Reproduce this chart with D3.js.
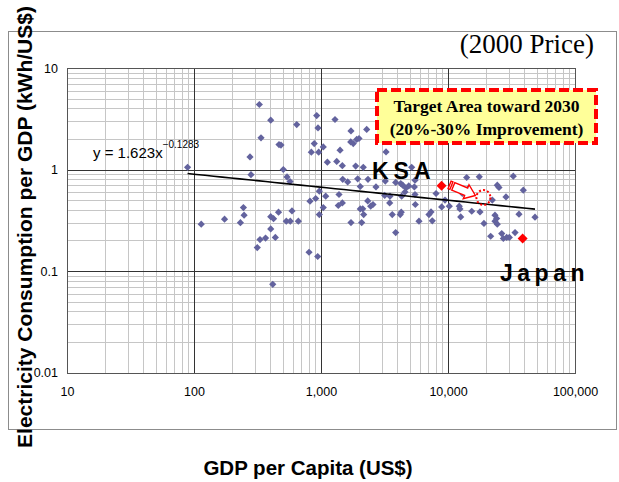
<!DOCTYPE html>
<html>
<head>
<meta charset="utf-8">
<script src="https://d3js.org/d3.v7.min.js"></script>
<style>
  body { margin: 0; background: #fff; }
  svg text { font-family: "Liberation Sans", Arial, sans-serif; }
  .grid line { shape-rendering: crispEdges; }
  .axis .domain { stroke: none; }
</style>
</head>
<body>
<svg id="chart" width="619" height="482"></svg>
<script>
// countries, GDP per capita (US$, 2000 price)
const gdpPerCapita = [89, 114, 174, 232, 245, 248, 276, 281, 327, 337, 315, 331, 366, 402, 402, 423, 463, 402, 437, 417,
  467, 484, 505, 540, 570, 533, 573, 591, 663, 644, 805, 942, 819, 908, 970, 1089, 1042, 970, 839, 959,
  885, 1042, 925, 947, 1289, 1122, 1330, 1472, 1413, 1722, 1714, 1795, 1910, 1992, 2290, 1876, 2153, 1483, 1622, 1945,
  2038, 2344, 1386, 1472, 1368, 1722, 2038, 2130, 2333, 2462, 2567, 2168, 2091, 2710, 3251, 3208, 3873, 5176, 4244, 4397,
  4667, 4909, 5432, 3175, 3493, 3475, 3640, 4207, 4285, 3873, 5530, 5910, 7080, 7350, 7520, 4585, 5500, 8050, 5500, 4318,
  9470, 8920, 10240, 12270, 12420, 12590, 14030, 17630, 14450, 12970, 15380, 17860, 19190, 22330, 24430, 25210, 23440, 24170, 23440, 24430,
  21680, 26490, 27290, 28990, 30410, 33730, 28620, 32660, 39170, 36220, 48420];
// electricity consumption per GDP (kWh/US$)
const elecPerGdp = [1.05, 0.289, 0.324, 0.299, 0.422, 0.355, 1.33, 0.89, 4.37, 2.05, 0.170, 0.204, 0.211, 3.06, 0.343, 0.328, 0.380, 0.260, 0.214, 0.074,
  1.76, 1.74, 1.00, 0.845, 0.76, 0.31, 0.31, 0.391, 0.31, 2.77, 0.153, 0.139, 0.487, 0.518, 0.611, 0.546, 0.422, 0.360, 1.48, 1.48,
  1.80, 1.67, 3.40, 2.57, 3.11, 1.18, 1.20, 1.09, 1.55, 2.40, 1.87, 1.80, 1.98, 2.02, 2.48, 1.08, 1.05, 0.80, 0.755, 0.81,
  0.68, 0.80, 0.567, 0.469, 0.442, 0.30, 0.409, 0.41, 0.49, 0.435, 0.452, 0.36, 0.30, 0.674, 1.49, 0.77, 0.745, 1.05, 0.728, 0.70,
  0.659, 0.689, 0.674, 0.555, 0.546, 0.469, 0.36, 0.36, 0.38, 0.239, 0.452, 0.31, 0.36, 0.382, 0.312, 0.60, 0.567, 0.58, 0.785, 0.546,
  0.50, 0.428, 0.435, 0.435, 0.409, 0.341, 0.834, 0.846, 0.65, 0.58, 0.388, 0.382, 0.294, 0.50, 0.70, 0.665, 0.355, 0.329, 0.31, 0.289,
  0.22, 0.234, 0.209, 0.214, 0.214, 0.239, 0.537, 0.859, 0.625, 0.363, 0.339];

const ksa = { gdp: 8900, value: 0.69 };
const japan = { gdp: 38700, value: 0.209 };
const target = { gdp: 19000, value: 0.53 };

// power trend y = a * x^b
const trendA = 1.623;
const trendB = -0.1283;

const xTicks = [10, 100, 1000, 10000, 100000];
const yTicks = [0.01, 0.1, 1, 10];

const svg = d3.select('#chart');
const plot = { left: 67, right: 575, top: 68, bottom: 372.5 };

const x = d3.scaleLog().domain([10, 100000]).range([plot.left, plot.right]);
const y = d3.scaleLog().domain([0.01, 10]).range([plot.bottom, plot.top]);

// outer frame
svg.append('rect')
  .attr('x', 8.5).attr('y', 31.5).attr('width', 608).attr('height', 398)
  .attr('fill', '#fff').attr('stroke', '#8c8c8c').attr('stroke-width', 1);

// minor gridlines
const minorX = [], minorY = [];
for (let d = 10; d < 100000; d *= 10) for (let k = 2; k <= 9; k++) minorX.push(d * k);
for (let d = 0.01; d < 9; d *= 10) for (let k = 2; k <= 9; k++) minorY.push(d * k);

const grid = svg.append('g').attr('class', 'grid');
grid.selectAll('.mx').data(minorX).join('line')
  .attr('x1', d => Math.round(x(d)) + 0.5).attr('x2', d => Math.round(x(d)) + 0.5)
  .attr('y1', plot.top).attr('y2', plot.bottom)
  .attr('stroke', '#c6c6c6');
grid.selectAll('.my').data(minorY).join('line')
  .attr('y1', d => Math.round(y(d)) + 0.5).attr('y2', d => Math.round(y(d)) + 0.5)
  .attr('x1', plot.left).attr('x2', plot.right)
  .attr('stroke', '#c6c6c6');
grid.selectAll('.Mx').data(xTicks).join('line')
  .attr('x1', d => Math.round(x(d)) + 0.5).attr('x2', d => Math.round(x(d)) + 0.5)
  .attr('y1', plot.top).attr('y2', plot.bottom)
  .attr('stroke', '#333');
grid.selectAll('.My').data(yTicks).join('line')
  .attr('y1', d => Math.round(y(d)) + 0.5).attr('y2', d => Math.round(y(d)) + 0.5)
  .attr('x1', plot.left).attr('x2', plot.right)
  .attr('stroke', '#333');

svg.append('rect')
  .attr('x', Math.round(plot.left) + 0.5).attr('y', Math.round(plot.top) + 0.5)
  .attr('width', Math.round(plot.right) - Math.round(plot.left))
  .attr('height', Math.round(plot.bottom) - Math.round(plot.top))
  .attr('fill', 'none').attr('stroke', '#555');

// axes
const xAxis = d3.axisBottom(x).tickValues(xTicks).tickSize(0).tickPadding(15).tickFormat(d3.format(','));
svg.append('g').attr('class', 'axis')
  .attr('transform', `translate(0,${plot.bottom})`)
  .call(xAxis)
  .selectAll('text').attr('font-size', 12.5).attr('fill', '#000')
  .style('font-family', '"Liberation Sans", Arial, sans-serif');

const yAxis = d3.axisLeft(y).tickValues(yTicks).tickSize(0).tickPadding(9).tickFormat(d => String(d));
svg.append('g').attr('class', 'axis')
  .attr('transform', `translate(${plot.left},0)`)
  .call(yAxis)
  .selectAll('text').attr('font-size', 12.5).attr('fill', '#000')
  .style('font-family', '"Liberation Sans", Arial, sans-serif');

// trend line
const xMin = d3.min(gdpPerCapita), xMax = d3.max(gdpPerCapita);
const trendPts = d3.range(0, 41).map(i => {
  const g = xMin * Math.pow(xMax / xMin, i / 40);
  return [g, trendA * Math.pow(g, trendB)];
});

// points
const pts = gdpPerCapita.map((g, i) => ({ gdp: g, value: elecPerGdp[i] }));
const diamond = d3.symbol(d3.symbolSquare, 26);
svg.append('g').selectAll('path').data(pts).join('path')
  .attr('d', diamond)
  .attr('transform', d => `translate(${x(d.gdp)},${y(d.value)}) rotate(45)`)
  .attr('fill', '#63639e');

svg.append('path')
  .datum(trendPts)
  .attr('d', d3.line().x(d => x(d[0])).y(d => y(d[1])))
  .attr('fill', 'none').attr('stroke', '#000').attr('stroke-width', 1.6);

const bigDiamond = d3.symbol(d3.symbolSquare, 50);
svg.append('g').selectAll('path').data([ksa, japan]).join('path')
  .attr('d', bigDiamond)
  .attr('transform', d => `translate(${x(d.gdp)},${y(d.value)}) rotate(45)`)
  .attr('fill', '#ff0000');

// arrow KSA -> target
const p0 = [x(ksa.gdp) + 8, y(ksa.value) - 1];
const p1 = [x(target.gdp) - 8, y(target.value) - 2];
const ang = Math.atan2(p1[1] - p0[1], p1[0] - p0[0]) * 180 / Math.PI;
const len = Math.hypot(p1[0] - p0[0], p1[1] - p0[1]);
const arrow = svg.append('g').attr('transform', `translate(${p0[0]},${p0[1]}) rotate(${ang})`);
arrow.append('rect').attr('x', 0).attr('y', -4).attr('width', 2).attr('height', 8)
  .attr('fill', '#fff').attr('stroke', '#ff0000').attr('stroke-width', 1.4);
arrow.append('path')
  .attr('d', `M4,-4 L${len - 10},-4 L${len - 10},-7.5 L${len},0 L${len - 10},7.5 L${len - 10},4 L4,4 Z`)
  .attr('fill', '#fff').attr('stroke', '#ff0000').attr('stroke-width', 1.4);

svg.append('ellipse')
  .attr('cx', x(target.gdp)).attr('cy', y(target.value))
  .attr('rx', 7).attr('ry', 7.5)
  .attr('fill', 'none').attr('stroke', '#ff0000').attr('stroke-width', 2)
  .attr('stroke-dasharray', '2,2.2');

// labels
svg.append('text').attr('x', 372).attr('y', 179)
  .attr('font-size', 23).attr('font-weight', 'bold').attr('letter-spacing', 5)
  .text('KSA');
svg.append('text').attr('x', 500).attr('y', 281)
  .attr('font-size', 23).attr('font-weight', 'bold').attr('letter-spacing', 4.5)
  .text('Japan');

const eq = svg.append('text').attr('x', 93).attr('y', 158).attr('font-size', 15);
eq.append('tspan').text('y = 1.623x');
eq.append('tspan').attr('dy', -10).attr('font-size', 10).text('−0.1283');

// target box
svg.append('rect')
  .attr('x', 377).attr('y', 90).attr('width', 219).attr('height', 53)
  .attr('fill', '#ffff99').attr('stroke', '#ff0000').attr('stroke-width', 4)
  .attr('stroke-dasharray', '10,4');
svg.append('text').attr('x', 486.5).attr('y', 112).attr('text-anchor', 'middle')
  .style('font-family', '"Liberation Serif", "Times New Roman", serif')
  .attr('font-size', 17.5).attr('font-weight', 'bold')
  .text('Target Area toward 2030');
svg.append('text').attr('x', 486.5).attr('y', 135).attr('text-anchor', 'middle')
  .style('font-family', '"Liberation Serif", "Times New Roman", serif')
  .attr('font-size', 17.5).attr('font-weight', 'bold')
  .text('(20%-30% Improvement)');

svg.append('text').attr('x', 594).attr('y', 53).attr('text-anchor', 'end')
  .style('font-family', '"Liberation Serif", "Times New Roman", serif')
  .attr('font-size', 27)
  .text('(2000 Price)');

// axis titles
svg.append('text').attr('x', 308).attr('y', 475).attr('text-anchor', 'middle')
  .attr('font-size', 20.5).attr('font-weight', 'bold')
  .text('GDP per Capita (US$)');
svg.append('text')
  .attr('transform', 'translate(32,227) rotate(-90)')
  .attr('text-anchor', 'middle')
  .attr('font-size', 21).attr('font-weight', 'bold')
  .text('Electricity Consumption per GDP (kWh/US$)');
</script>
</body>
</html>
